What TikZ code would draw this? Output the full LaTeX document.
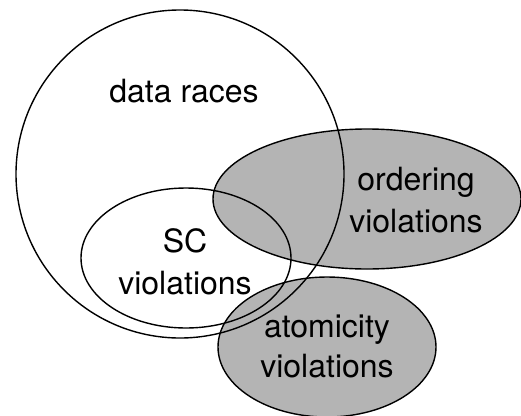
\documentclass[tikz,border=0pt]{standalone}
\usepackage{fontspec}
\setmainfont{TeX Gyre Heros}
\begin{document}
\begin{tikzpicture}[x=1pt,y=-1pt,
  setline/.style={line width=1.4pt},
  setfill/.style={fill=shade},
  lbl/.style={align=center,font=\fontsize{32}{42}\selectfont,inner sep=0pt}]
\definecolor{shade}{RGB}{180,180,180}
\useasboundingbox (0,0) rectangle (521,415);
% filled regions
\fill[setfill] (367,199) ellipse [x radius=154, y radius=70];
\fill[setfill] (327,347) ellipse [x radius=109, y radius=70];
% outlines
\draw[setline] (180,174) circle [radius=164];
\draw[setline] (367,199) ellipse [x radius=154, y radius=70];
\draw[setline] (186,258) ellipse [x radius=105, y radius=70];
\draw[setline] (327,347) ellipse [x radius=109, y radius=70];
% labels
\node[lbl,anchor=base] (races) at (184,102) {data races};
\node[lbl,anchor=base] (ord1) at (416,190) {ordering};
\node[lbl,anchor=base] (ord2) at (416,232) {violations};
\node[lbl,anchor=base] (sc1) at (185,252) {SC};
\node[lbl,anchor=base] (sc2) at (185,294) {violations};
\node[lbl,anchor=base] (at1) at (327,337) {atomicity};
\node[lbl,anchor=base] (at2) at (327,377) {violations};
\end{tikzpicture}
\end{document}
